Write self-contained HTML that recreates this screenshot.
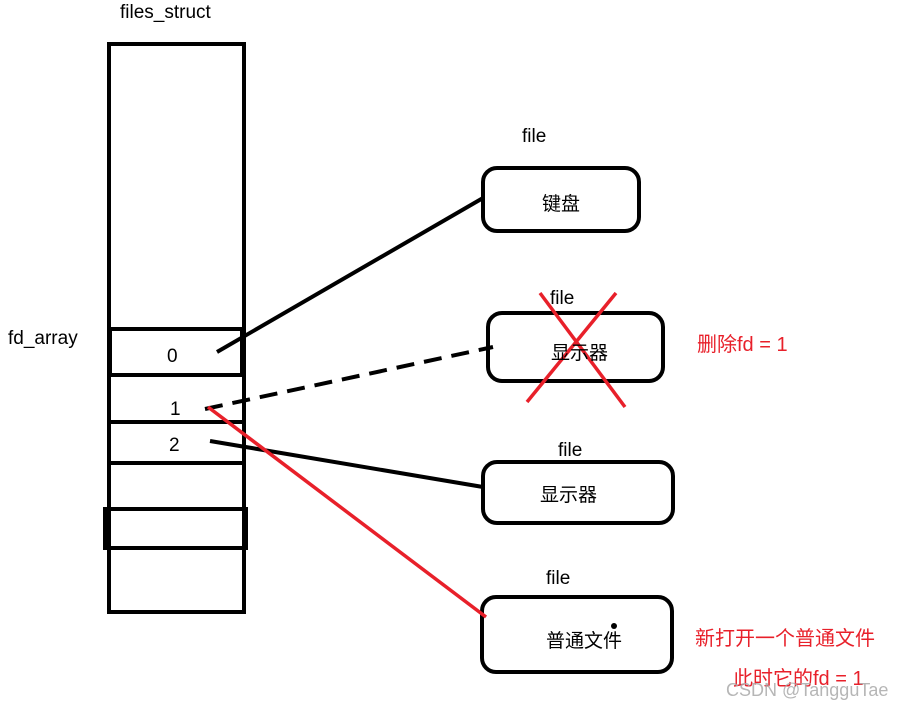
<!DOCTYPE html><html><head><style>body{margin:0;background:#fff}svg text{font-family:"Liberation Sans","Noto Sans CJK SC",sans-serif}</style></head><body>
<svg width="907" height="710" xmlns="http://www.w3.org/2000/svg">
<rect width="907" height="710" fill="#fff"/>
<g fill="none" stroke="#000" stroke-width="4">
<rect x="109" y="44" width="135" height="568"/>
<rect x="110" y="329" width="132" height="46"/>
<line x1="109" y1="422" x2="244" y2="422"/>
<line x1="109" y1="463" x2="244" y2="463"/>
<rect x="105" y="509" width="141" height="39"/>
<rect x="483" y="168" width="156" height="63" rx="14"/>
<rect x="488" y="313" width="175" height="68" rx="14"/>
<rect x="483" y="462" width="190" height="61" rx="14"/>
<rect x="482" y="597" width="190" height="75" rx="14"/>
<line x1="217" y1="352" x2="483" y2="198"/>
<line x1="205" y1="409" x2="493" y2="347" stroke-dasharray="18,10"/>
<line x1="210" y1="441" x2="483" y2="487"/>
</g>
<rect x="103" y="509" width="6" height="39" fill="#000"/>
<g stroke="#e8202a" stroke-width="3.5">
<line x1="208" y1="407" x2="486" y2="617"/>
<line x1="540" y1="293" x2="625" y2="407"/>
<line x1="616" y1="293" x2="527" y2="402"/>
</g>
<circle cx="614" cy="626" r="3" fill="#000"/>
<g font-size="19" fill="#000">
<text x="120" y="18">files_struct</text>
<text x="8" y="344">fd_array</text>
<text x="167" y="362">0</text>
<text x="170" y="415">1</text>
<text x="169" y="451">2</text>
<text x="522" y="142">file</text>
<text x="550" y="304">file</text>
<text x="558" y="456">file</text>
<text x="546" y="584">file</text>
</g>
<g font-size="19" fill="#000">
<text x="542" y="210">键盘</text>
<text x="551" y="359">显示器</text>
<text x="540" y="501">显示器</text>
<text x="546" y="647">普通文件</text>
</g>
<g font-size="20" fill="#e8202a">
<text x="697" y="351">删除fd = 1</text>
<text x="695" y="645">新打开一个普通文件</text>
<text x="733" y="685">此时它的fd = 1</text>
</g>
<text x="726" y="696" font-size="18" fill="#aaa" opacity="0.85">CSDN @TangguTae</text>
</svg></body></html>
